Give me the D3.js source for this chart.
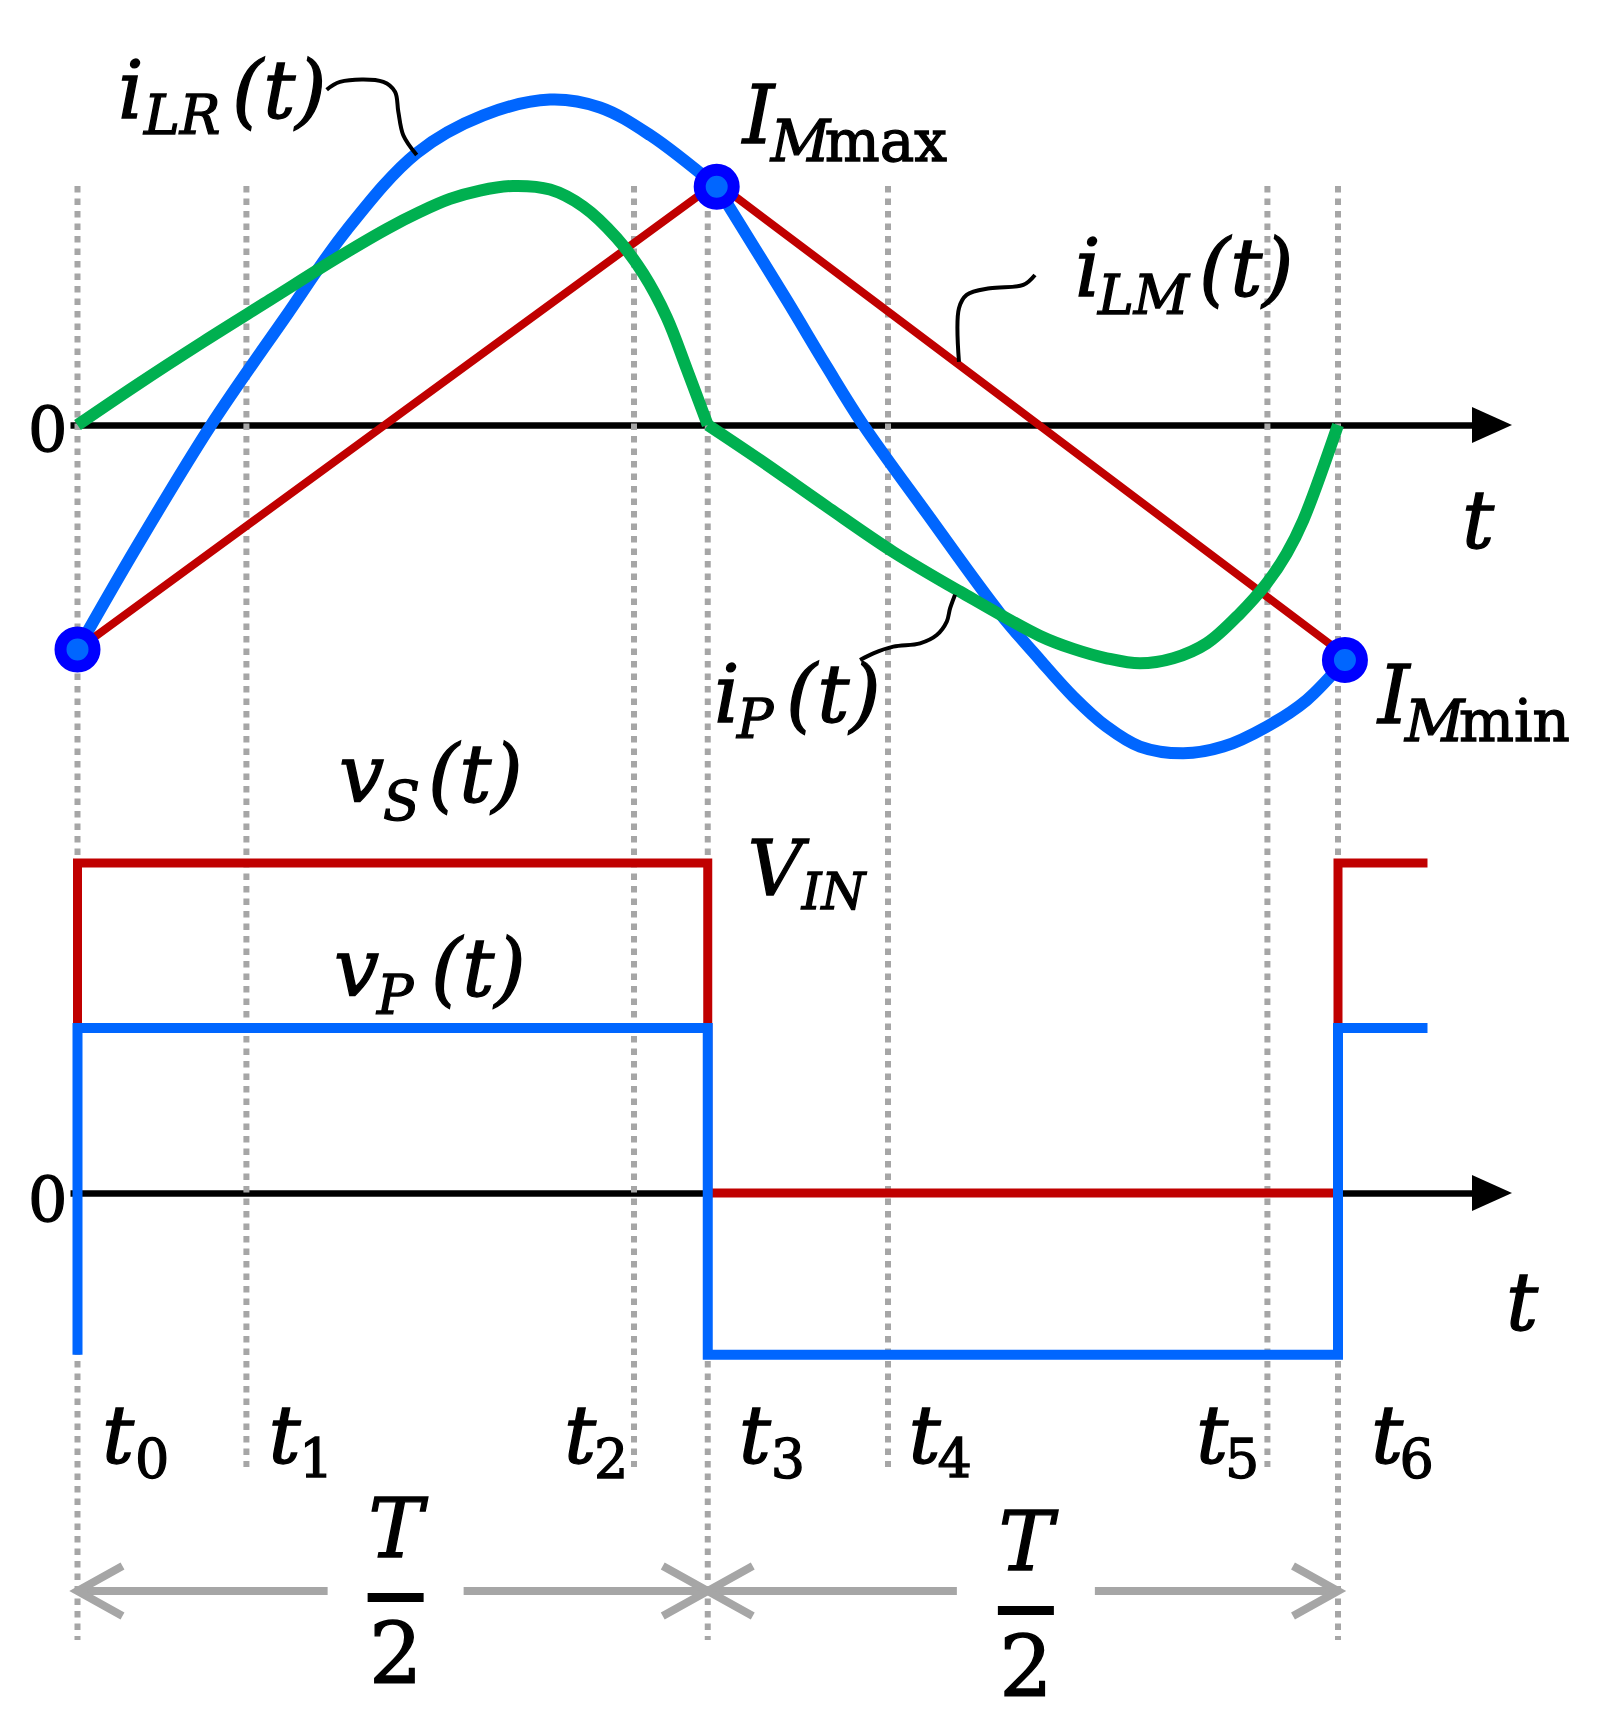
<!DOCTYPE html>
<html><head><meta charset="utf-8">
<script src="https://cdn.jsdelivr.net/npm/d3@7"></script>
<style>body{margin:0;background:#fff}svg{display:block}</style>
</head><body>
<svg id="c" width="1599" height="1736"></svg>
<script>
// ---------------- data ----------------
const tickSubs  = ["0","1","2","3","4","5","6"];
const tickTimes = [0, 0.134, 0.4415, 0.5, 0.643, 0.944, 1.0];
const periodBounds = [0, 0.5, 1.0];

// resonant current i_LR(t)
const iLR_t = [0, 0.0470, 0.1051, 0.1633, 0.2136, 0.2691, 0.3219, 0.3749, 0.4145, 0.4542, 0.5071,
               0.5626, 0.5944, 0.6234, 0.6737, 0.7319, 0.7636, 0.7900, 0.8165, 0.8429, 0.8773,
               0.9090, 0.9434, 0.9752, 1.0055];
const iLR_v = [-0.935, -0.507, -0.007, 0.4375, 0.8125, 1.133, 1.290, 1.356, 1.323, 1.208, 0.993,
               0.521, 0.243, 0.0, -0.368, -0.785, -0.979, -1.132, -1.257, -1.340, -1.368,
               -1.340, -1.257, -1.146, -0.979];
const iLR_break = 10;

// magnetizing current i_LM(t)
const iLM_t = [0, 0.5071, 1.0055];
const iLM_v = [-0.935, 1.01, -0.96];

// primary current i_P(t)
const iP_t = [0, 0.0470, 0.0998, 0.1527, 0.2056, 0.2453, 0.2717, 0.2955, 0.3193, 0.3455, 0.3749,
              0.4013, 0.4278, 0.4489, 0.4674, 0.4833, 0.5,
              0.5415, 0.5944, 0.6472, 0.7001, 0.7636, 0.7900, 0.8165, 0.8429, 0.8693, 0.8958,
              0.9223, 0.9434, 0.9593, 0.9725, 1.0];
const iP_v = [0, 0.167, 0.347, 0.521, 0.695, 0.817, 0.888, 0.942, 0.977, 0.996, 0.981,
              0.910, 0.779, 0.630, 0.449, 0.234, 0,
              -0.146, -0.340, -0.529, -0.694, -0.879, -0.933, -0.972, -0.993, -0.972, -0.910,
              -0.785, -0.660, -0.535, -0.396, 0];
const iP_break = 16;

// I_Mmin, I_Mmax, I_Mmin markers
const dot_t = [0, 0.5071, 1.0055];
const dot_v = [-0.935, 0.993, -0.979];

// switch-node voltage v_S(t) and primary voltage v_P(t) (step after)
const vS_t = [0, 0, 0.5, 1.0, 1.071];
const vS_v = [0, 1, 0, 1, 1];
const vP_t = [0, 0, 0.5, 1.0, 1.071];
const vP_v = [-0.49, 0.5, -0.49, 0.5, 0.5];

// ---------------- styles ----------------
const C_BLUE = "#0066ff", C_RED = "#c00000", C_GREEN = "#00b050",
      C_GREY = "#a6a6a6", C_DOT = "#0000ff";
const FONT = "'DejaVu Serif', serif";
const F_MAIN = 80, F_SUB = 54, F_SUBR = 58;

const svg = d3.select("#c");
const xS = d3.scaleLinear().domain([0, 1]).range([77.5, 1338]);
const yI = d3.scaleLinear().domain([-1, 1]).range([665, 185]);
const yV = d3.scaleLinear().domain([0, 1]).range([1193, 863]);

// ---------------- axes ----------------
const axX = d3.scaleLinear().domain([xS.invert(70), xS.invert(1482)]).range([70, 1482]);
function drawAxis(y0) {
  const g = svg.append("g").attr("transform", `translate(0,${y0})`)
    .call(d3.axisBottom(axX).tickValues([]).tickSizeOuter(0));
  g.select(".domain").attr("stroke", "#000").attr("stroke-width", 6.5);
  g.append("path").attr("d", "M1472,-18L1512,0L1472,18Z").attr("fill", "#000");
}
drawAxis(yI(0));
drawAxis(yV(0));

// ---------------- dashed guides ----------------
const topGuide = 186, shortEnd = 1467, longEnd = 1640;
svg.append("g").selectAll("line").data(tickTimes).join("line")
  .attr("x1", d => xS(d)).attr("x2", d => xS(d))
  .attr("y1", topGuide)
  .attr("y2", d => periodBounds.includes(d) ? longEnd : shortEnd)
  .attr("stroke", C_GREY).attr("stroke-width", 6).attr("stroke-dasharray", "6.5,6");

// ---------------- voltages ----------------
const stepLine = d3.line().curve(d3.curveStepAfter).x(d => xS(d[0])).y(d => yV(d[1]));
svg.append("path").attr("d", stepLine(d3.zip(vS_t, vS_v)))
  .attr("fill", "none").attr("stroke", C_RED).attr("stroke-width", 9);
svg.append("path").attr("d", stepLine(d3.zip(vP_t, vP_v)))
  .attr("fill", "none").attr("stroke", C_BLUE).attr("stroke-width", 10);

// ---------------- currents ----------------
const smooth = d3.line().curve(d3.curveCatmullRom.alpha(0.5)).x(d => xS(d[0])).y(d => yI(d[1]));
const straight = d3.line().x(d => xS(d[0])).y(d => yI(d[1]));
const lr = d3.zip(iLR_t, iLR_v);
[lr.slice(0, iLR_break + 1), lr.slice(iLR_break)].forEach(seg =>
  svg.append("path").attr("d", smooth(seg)).attr("fill", "none")
    .attr("stroke", C_BLUE).attr("stroke-width", 12));
svg.append("path").attr("d", straight(d3.zip(iLM_t, iLM_v))).attr("fill", "none")
  .attr("stroke", C_RED).attr("stroke-width", 8);
const ip = d3.zip(iP_t, iP_v);
[ip.slice(0, iP_break + 1), ip.slice(iP_break)].forEach(seg =>
  svg.append("path").attr("d", smooth(seg)).attr("fill", "none")
    .attr("stroke", C_GREEN).attr("stroke-width", 12).attr("stroke-linejoin", "round"));
svg.append("g").selectAll("circle").data(d3.zip(dot_t, dot_v)).join("circle")
  .attr("cx", d => xS(d[0])).attr("cy", d => yI(d[1])).attr("r", 17)
  .attr("fill", C_BLUE).attr("stroke", C_DOT).attr("stroke-width", 12);

// ---------------- leaders ----------------
const interpLR = d3.scaleLinear().domain(iLR_t).range(iLR_v);
const interpLM = d3.scaleLinear().domain(iLM_t).range(iLM_v);
const interpP  = d3.scaleLinear().domain(iP_t).range(iP_v);
const leaderLine = d3.line().curve(d3.curveCatmullRom.alpha(0.5));
function leader(t, fn, offs) {
  const ax = xS(t), ay = yI(fn(t));
  const pts = offs.map(o => [ax + o[0], ay + o[1]]);
  svg.append("path").attr("d", leaderLine(pts)).attr("fill", "none")
    .attr("stroke", "#000").attr("stroke-width", 4);
  return pts[0];
}
const lrStart = leader(0.2691, interpLR,
  [[-90, -63.3], [-76.7, -71.2], [-33.4, -71.2], [-21.7, -61.3], [-18.4, -41.5], [-13.4, -17.8], [0, 2]]);
const lmStart = leader(0.6993, interpLM,
  [[76, -90], [64.3, -80], [31, -76.7], [7.7, -70], [0, -56.7], [0, -3]]);
const pStart = leader(0.6962, interpP,
  [[-95, 71.4], [-81.7, 64.7], [-61.7, 58], [-35, 54.7], [-18.3, 46.4], [-8.3, 33], [-5, 19.7], [0, 6]]);

// ---------------- text ----------------
function part(x, y, txt, kind, size) {
  const italic = kind === "i" || kind === "is";
  const sz = size || (kind === "i" || kind === "r" ? F_MAIN : (kind === "rs" ? F_SUBR : F_SUB));
  return svg.append("text").attr("x", x).attr("y", y).text(txt)
    .attr("font-family", FONT).attr("font-size", sz)
    .attr("font-style", italic ? "italic" : "normal").attr("fill", "#000")
    .attr("stroke", "#000").attr("stroke-width", 1.3);
}
function mathLabel(x, y, parts) {
  parts.forEach(p => part(x + p[1], y + p[2], p[0], p[3], p[4]));
}
// i_LR(t)
mathLabel(lrStart[0], lrStart[1], [["i", -208.7, 28.3, "i"], ["LR", -182.7, 44.3, "is"], ["(t)", -94.7, 28.3, "i"]]);
// i_LM(t)
mathLabel(lmStart[0], lmStart[1], [["i", 40, 21, "i"], ["LM", 63, 39, "is"], ["(t)", 164, 21, "i"]]);
// i_P(t)
mathLabel(pStart[0], pStart[1], [["i", -146, 62.3, "i"], ["P", -123, 78.3, "is"], ["(t)", -74, 62.3, "i"]]);
// I_Mmax
mathLabel(xS(dot_t[1]), yI(dot_v[1]), [["I", 26, -44, "i"], ["M", 54, -26, "is", 58], ["max", 108, -26, "rs"]]);
// I_Mmin
mathLabel(xS(dot_t[2]), yI(dot_v[2]), [["I", 33, 63, "i"], ["M", 60, 81, "is", 58], ["min", 114, 81, "rs"]]);
// v_S(t), v_P(t), V_IN
mathLabel(xS(0.25), yV(1), [["v", -53.6, -61, "i"], ["S", -9.6, -43, "is"], ["(t)", 35.4, -61, "i"]]);
mathLabel(xS(0.25), yV(0.5), [["v", -58.6, -32, "i"], ["P", -15.6, -14, "is"], ["(t)", 38.4, -32, "i"]]);
mathLabel(xS(0.5), yV(1), [["V", 40, 32, "i", 76], ["IN", 94, 46, "is", 50]]);

// zero labels and axis names
part(28, yI(0) + 26, "0", "r", 62);
part(28, yV(0) + 28, "0", "r", 62);
part(1462, yI(0) + 123, "t", "i");
part(1506, yV(0) + 137, "t", "i");

// time instants
const tickOff = [[24.5, 57.5], [22, 52.5], [-70, -40], [31, 63], [20.5, 49.5], [-71.5, -42.5], [33, 61.5]];
tickTimes.forEach((t, k) => {
  part(xS(t) + tickOff[k][0], 1463, "t", "i");
  part(xS(t) + tickOff[k][1], 1478, tickSubs[k], "rs", F_SUB);
});

// T/2 spans with arrows
const arrowY = 1591;
function span(t0, t1, gapHalf, lift) {
  const a = xS(t0), b = xS(t1), m = (a + b) / 2 + 3;
  const g = svg.append("g").attr("fill", "none").attr("stroke", C_GREY)
    .attr("stroke-width", 8);
  g.append("line").attr("x1", a).attr("x2", m - gapHalf).attr("y1", arrowY).attr("y2", arrowY);
  g.append("line").attr("x1", m + gapHalf).attr("x2", b).attr("y1", arrowY).attr("y2", arrowY);
  g.append("path").attr("d", `M${a + 45},${arrowY - 25}L${a},${arrowY}L${a + 45},${arrowY + 25}`);
  g.append("path").attr("d", `M${b - 45},${arrowY - 25}L${b},${arrowY}L${b - 45},${arrowY + 25}`);
  part(m, 1557 + lift, "T", "i", 82).attr("text-anchor", "middle");
  svg.append("rect").attr("x", m - 28).attr("y", 1593 + lift).attr("width", 56).attr("height", 9).attr("fill", "#000");
  part(m, 1683 + lift, "2", "r", 84).attr("text-anchor", "middle");
}
span(0, 0.5, 68, 0);
span(0.5, 1.0, 69, 13);
</script>
</body></html>
